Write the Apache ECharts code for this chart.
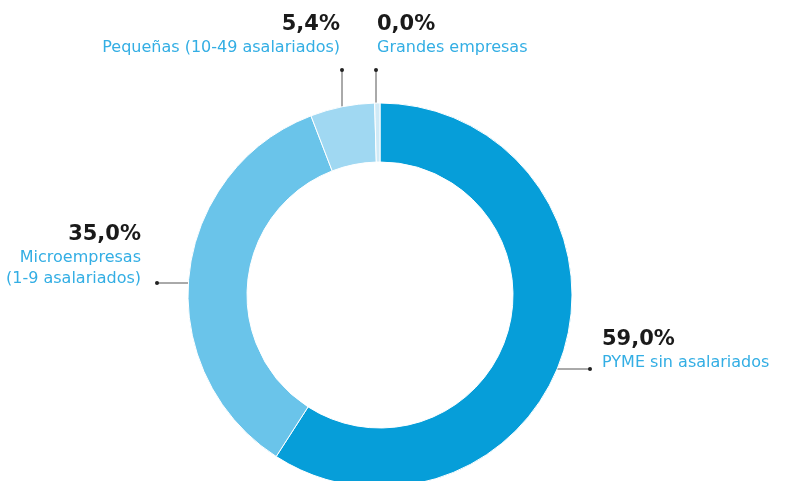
<!DOCTYPE html>
<html>
<head>
<meta charset="utf-8">
<script src="https://cdn.jsdelivr.net/npm/echarts@6/dist/echarts.min.js"></script>
<style>html,body{margin:0;padding:0;background:#fff;}#c{width:786px;height:481px;}</style>
</head>
<body>
<div id="c"></div>
<script>
var categories = ['PYME sin asalariados', 'Microempresas\n(1-9 asalariados)', 'Pequeñas (10-49 asalariados)', 'Grandes empresas'];
var values = [59.0, 35.0, 5.4, 0.0];
var colors = ['#069ed9', '#6ac4ea', '#a0d8f2', '#cfeaf7'];

// label placement (layout only)
var labelPos = [
  { x: 602, y: 328, align: 'left', line: [[590, 369], [569, 369], [548, 369]] },
  { x: 141, y: 223, align: 'right', line: [[157, 283], [180, 283], [200, 283]] },
  { x: 340, y: 13, align: 'right', line: [[342, 70], [342, 92], [342, 114]] },
  { x: 377, y: 13, align: 'left', line: [[376, 70], [376, 87], [376, 104]] }
];

function fmt(v) { return v.toFixed(1).replace('.', ',') + '%'; }

var chart = echarts.init(document.getElementById('c'));
var data = categories.map(function (c, i) {
  return { name: c, value: values[i], itemStyle: { color: colors[i] } };
});

chart.setOption({
  animation: false,
  graphic: labelPos.map(function (p) {
    return { type: 'circle', shape: { cx: p.line[0][0], cy: p.line[0][1], r: 2 }, style: { fill: '#222' }, z: 100 };
  }),
  series: [{
    type: 'pie',
    center: [380, 295],
    radius: [133, 192],
    startAngle: 90,
    clockwise: true,
    minAngle: 1.6,
    avoidLabelOverlap: false,
    itemStyle: { borderColor: '#fff', borderWidth: 1 },
    label: {
      show: true,
      position: 'outside',
      fontFamily: 'DejaVu Sans',
      formatter: function (p) {
        var lines = p.name.split('\n').map(function (l) { return '{n|' + l + '}'; });
        return '{p|' + fmt(p.value) + '}\n' + lines.join('\n');
      },
      rich: {
        p: { fontSize: 21, fontWeight: 700, color: '#1a1a1a', lineHeight: 24, fontFamily: 'DejaVu Sans' },
        n: { fontSize: 16, color: '#33aee4', lineHeight: 21, fontFamily: 'DejaVu Sans' }
      }
    },
    labelLine: { show: true, lineStyle: { color: '#555', width: 1 } },
    labelLayout: function (params) {
      var p = labelPos[params.dataIndex];
      return { x: p.x, y: p.y, align: p.align, verticalAlign: 'top', labelLinePoints: p.line };
    },
    data: data
  }]
});
</script>
</body>
</html>
